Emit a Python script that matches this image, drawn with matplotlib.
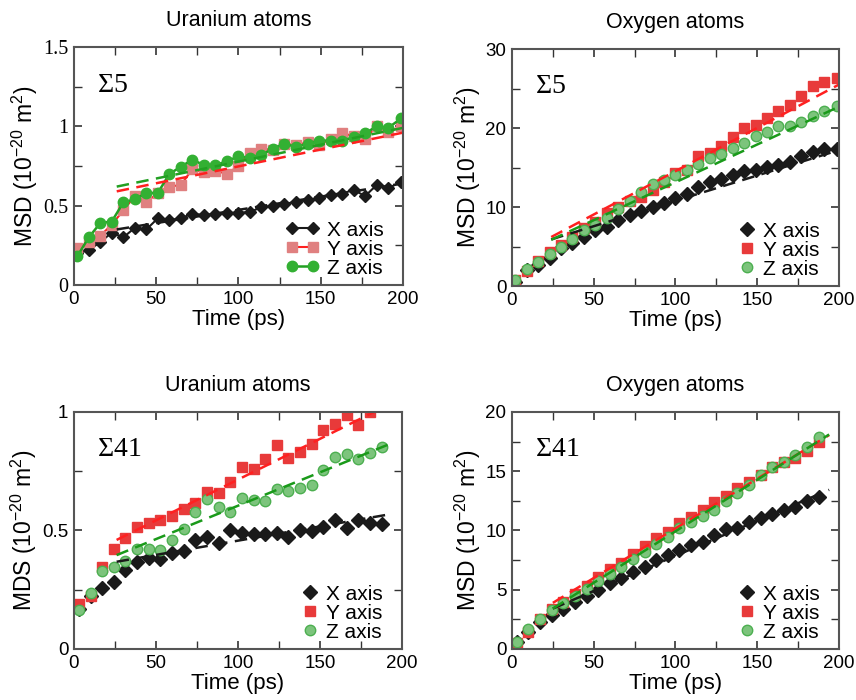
import matplotlib
matplotlib.use('Agg')
import matplotlib.pyplot as plt
from matplotlib.ticker import MultipleLocator

plt.rcParams['font.family'] = ['Liberation Sans', 'DejaVu Sans']
plt.rcParams['mathtext.default'] = 'regular'

# Sigma5 boundary, sampling times (ps)
t5 = [2, 9, 16, 23, 30, 37, 44, 51, 58, 65, 72, 79, 86, 93, 100, 107, 114,
      121, 128, 135, 142, 149, 156, 163, 170, 177, 184, 191, 199]

# Uranium, Sigma5
u5_x = [0.20, 0.22, 0.27, 0.33, 0.30, 0.36, 0.35, 0.42, 0.41, 0.42, 0.45, 0.44,
        0.45, 0.455, 0.455, 0.46, 0.49, 0.50, 0.51, 0.525, 0.535, 0.545, 0.565,
        0.575, 0.60, 0.56, 0.63, 0.61, 0.65]
u5_y = [0.23, 0.27, 0.31, 0.38, 0.47, 0.56, 0.525, 0.577, 0.62, 0.63, 0.73, 0.71,
        0.72, 0.70, 0.75, 0.83, 0.86, 0.85, 0.89, 0.88, 0.90, 0.88, 0.92, 0.955,
        0.94, 0.92, 1.0, 0.965, 1.0]
u5_z = [0.18, 0.30, 0.39, 0.40, 0.52, 0.54, 0.58, 0.58, 0.70, 0.745, 0.79, 0.755,
        0.755, 0.78, 0.81, 0.80, 0.82, 0.86, 0.89, 0.87, 0.89, 0.91, 0.91, 0.91,
        0.93, 0.955, 1.0, 0.99, 1.05]
u5_fit_t = [26, 200]
u5_fit_x = [0.35, 0.64]
u5_fit_y = [0.59, 0.96]
u5_fit_z = [0.62, 0.99]

# Oxygen, Sigma5
o5_x = [0.55, 2.0, 2.7, 3.5, 4.8, 5.4, 6.25, 7.1, 7.5, 8.4, 9.0, 9.5, 10.0, 10.5,
        11.2, 11.7, 12.5, 13.2, 13.6, 14.1, 14.5, 14.7, 15.1, 15.3, 15.7, 16.5,
        16.9, 17.3, 17.4]
o5_y = [0.75, 1.95, 3.2, 4.35, 5.2, 6.25, 7.3, 8.15, 9.2, 10.05, 10.7, 11.3, 12.2,
        13.2, 14.3, 14.7, 16.4, 16.8, 17.7, 18.9, 20.0, 20.4, 21.25, 22.1, 22.9,
        24.0, 25.35, 25.8, 26.3]
o5_z = [0.7, 2.1, 3.1, 4.05, 5.0, 5.9, 7.1, 7.7, 8.6, 9.75, 10.7, 11.95, 12.9,
        13.4, 14.0, 14.7, 15.5, 16.2, 16.7, 17.45, 18.1, 19.0, 19.55, 20.2, 20.2,
        20.8, 21.5, 22.1, 22.8]
o5_fit_t = [24, 200]
o5_fit_x = [5.9, 17.2]
o5_fit_y = [6.2, 25.5]
o5_fit_z = [5.85, 22.7]

# Sigma41 boundary, sampling times (ps)
t41 = [3.0, 10.1, 17.2, 24.3, 31.4, 38.5, 45.6, 52.7, 59.8, 66.9, 74.0, 81.1,
       88.2, 95.3, 102.4, 109.5, 116.6, 123.7, 130.8, 137.9, 145.0, 152.1,
       159.2, 166.3, 173.4, 180.5, 187.6]

# Uranium, Sigma41
u41_x = [0.17, 0.225, 0.258, 0.283, 0.333, 0.365, 0.382, 0.378, 0.406, 0.413,
         0.46, 0.471, 0.446, 0.502, 0.49, 0.485, 0.485, 0.488, 0.474, 0.50, 0.498,
         0.516, 0.544, 0.512, 0.544, 0.53, 0.526]
u41_y = [0.19, 0.224, 0.347, 0.42, 0.467, 0.516, 0.53, 0.545, 0.563, 0.59, 0.615,
         0.664, 0.66, 0.706, 0.767, 0.758, 0.80, 0.861, 0.805, 0.833, 0.864, 0.925,
         0.949, 0.986, 0.944, 0.999]
u41_z = [0.166, 0.237, 0.33, 0.344, 0.372, 0.42, 0.42, 0.417, 0.46, 0.505, 0.577,
         0.632, 0.60, 0.577, 0.639, 0.629, 0.625, 0.676, 0.665, 0.678, 0.692, 0.756,
         0.808, 0.822, 0.803, 0.826, 0.852]
u41_fit_x_t = [26, 194]
u41_fit_x = [0.368, 0.57]
u41_fit_y_t = [26, 183]
u41_fit_y = [0.46, 1.0]
u41_fit_z_t = [26, 194]
u41_fit_z = [0.396, 0.869]

# Oxygen, Sigma41
o41_x = [0.55, 1.44, 2.28, 2.85, 3.41, 3.98, 4.49, 4.96, 5.53, 5.95, 6.52, 6.94,
         7.5, 7.93, 8.35, 8.77, 9.05, 9.62, 10.1, 10.18, 10.69, 11.09, 11.4,
         11.73, 12.02, 12.52, 12.8]
o41_y = [0.5, 1.44, 2.57, 3.41, 3.98, 4.6, 5.3, 6.09, 6.74, 7.28, 7.98, 8.69,
         9.34, 9.9, 10.66, 11.17, 11.73, 12.44, 12.92, 13.57, 14.13, 14.7, 15.35,
         15.74, 16.1, 16.73, 17.43]
o41_z = [0.6, 1.72, 2.51, 3.27, 3.92, 4.46, 5.1, 5.75, 6.32, 6.88, 7.56, 8.15,
         8.83, 9.48, 10.18, 10.75, 11.23, 11.73, 12.52, 13.2, 13.85, 14.64, 15.35,
         15.74, 16.39, 17.04, 17.86]
o41_fit_t = [25, 194]
o41_fit_x = [3.41, 13.43]
o41_fit_y = [3.89, 18.05]
o41_fit_z = [3.41, 18.1]

fig = plt.figure(figsize=(8.56, 7.0), dpi=100)


def setup(ax, ymax, ymaj, title, sigma, ylabel, serif_y=False):
    ax.set_xlim(0, 200)
    ax.set_ylim(0, ymax)
    ax.xaxis.set_major_locator(MultipleLocator(50))
    ax.xaxis.set_minor_locator(MultipleLocator(25))
    ax.yaxis.set_major_locator(MultipleLocator(ymaj))
    ax.yaxis.set_minor_locator(MultipleLocator(ymaj / 2))
    ax.tick_params(which='both', direction='in', top=True, right=True,
                   labelsize=13.5, color='#333333', pad=4)
    ax.tick_params(which='major', length=6, width=1.2)
    ax.tick_params(which='minor', length=6, width=1.0)
    for s in ax.spines.values():
        s.set_linewidth(1.5)
        s.set_color('#555555')
    ax.set_title(title, fontsize=15.5, pad=15)
    ax.set_xlabel('Time (ps)', fontsize=16, labelpad=1)
    ax.set_ylabel(ylabel, fontsize=16.5, labelpad=2)
    ax.text(0.07, 0.84, sigma, transform=ax.transAxes, ha='left', va='center',
            fontsize=20, family='Liberation Serif')
    ax.yaxis.set_major_formatter(plt.FuncFormatter(lambda v, p: '%g' % v))
    if serif_y:
        for lab in ax.get_yticklabels():
            lab.set_family('Liberation Serif')
            lab.set_fontsize(14.5)


def add_legend(ax, npts, hlen):
    ax.legend(loc='lower right', bbox_to_anchor=(0.965, 0.0), frameon=False,
              fontsize=15, numpoints=npts, handlelength=hlen,
              handletextpad=0.4, labelspacing=0.0, borderaxespad=0.1,
              borderpad=0.25)


msd = 'MSD (10$^{-20}$ m$^{2}$)'

# top left: uranium, Sigma5, lines with symbols
ax1 = fig.add_axes([0.0864, 0.5929, 0.3843, 0.34])
ax1.plot(t5, u5_x, '-D', color='#1a1a1a', ms=6.5, lw=1.5, label='X axis')
ax1.plot(t5, u5_y, '-s', color='#ff2020', mfc='#e08080', mec='#e08080', ms=7.5,
         lw=1.5, label='Y axis')
ax1.plot(t5, u5_z, '-o', color='#22a022', mfc='#33b033', mec='#33b033', ms=7.5,
         lw=1.8, label='Z axis')
ax1.plot(u5_fit_t, u5_fit_x, '--', color='#1a1a1a', lw=1.8, dashes=(5, 3))
ax1.plot(u5_fit_t, u5_fit_y, '--', color='#ff2020', lw=1.8, dashes=(5, 3))
ax1.plot(u5_fit_t, u5_fit_z, '--', color='#22a022', lw=1.8, dashes=(5, 3))
setup(ax1, 1.5, 0.5, 'Uranium atoms', r'$\Sigma$5', msd, serif_y=True)
add_legend(ax1, 2, 1.6)


def scatter_panel(ax, t, xs, ys, zs, fits):
    n = len(ys)
    ax.plot(t, xs, 'D', color='#1a1a1a', ms=7, label='X axis')
    ax.plot(t[:n], ys, 's', color='#e83a3a', ms=7, label='Y axis')
    ax.plot(t, zs, 'o', mfc='#7cc47c', mec='#4caf50', ms=7.5, label='Z axis')
    for ft, fv, c in fits:
        ax.plot(ft, fv, '--', color=c, lw=1.8, dashes=(5, 3))
    add_legend(ax, 1, 0.8)


# top right: oxygen, Sigma5
ax2 = fig.add_axes([0.5981, 0.5914, 0.382, 0.3386])
scatter_panel(ax2, t5, o5_x, o5_y, o5_z,
              [(o5_fit_t, o5_fit_x, '#1a1a1a'), (o5_fit_t, o5_fit_y, '#ff2020'),
               (o5_fit_t, o5_fit_z, '#1a9a1a')])
setup(ax2, 30, 10, 'Oxygen atoms', r'$\Sigma$5', msd)

# bottom left: uranium, Sigma41
ax3 = fig.add_axes([0.0864, 0.0729, 0.3832, 0.3386])
scatter_panel(ax3, t41, u41_x, u41_y, u41_z,
              [(u41_fit_x_t, u41_fit_x, '#1a1a1a'), (u41_fit_y_t, u41_fit_y, '#ff2020'),
               (u41_fit_z_t, u41_fit_z, '#1a9a1a')])
setup(ax3, 1.0, 0.5, 'Uranium atoms', r'$\Sigma$41', 'MDS (10$^{-20}$ m$^{2}$)')

# bottom right: oxygen, Sigma41
ax4 = fig.add_axes([0.5981, 0.0729, 0.382, 0.3386])
scatter_panel(ax4, t41, o41_x, o41_y, o41_z,
              [(o41_fit_t, o41_fit_x, '#1a1a1a'), (o41_fit_t, o41_fit_y, '#ff2020'),
               (o41_fit_t, o41_fit_z, '#1a9a1a')])
setup(ax4, 20, 5, 'Oxygen atoms', r'$\Sigma$41', msd)

fig.savefig('out.png', dpi=100)
